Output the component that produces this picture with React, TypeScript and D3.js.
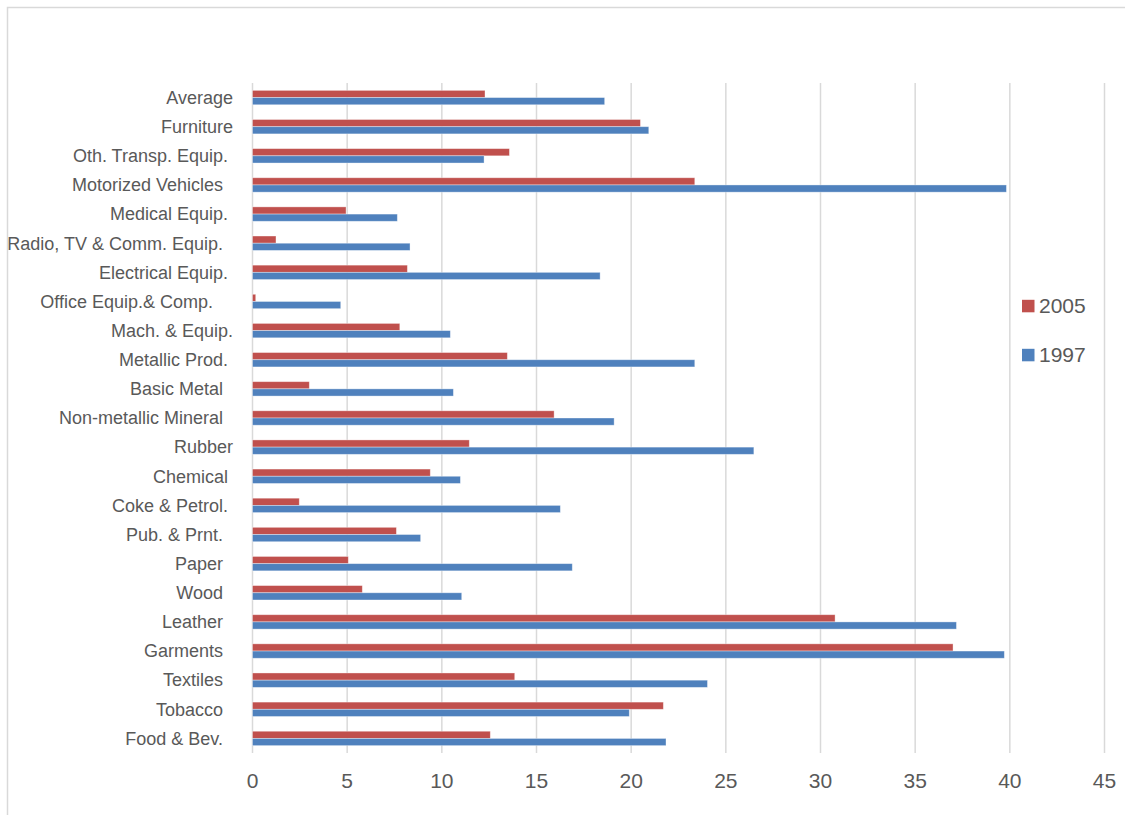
import React from "react";
import * as d3 from "d3";

// Industry categories, listed top to bottom as they appear on the axis.
// Trailing spaces are part of the source labels.
const categories: string[] = [
  "Average",
  "Furniture",
  "Oth. Transp. Equip. ",
  "Motorized Vehicles  ",
  "Medical Equip. ",
  "Radio, TV & Comm. Equip.  ",
  "Electrical Equip. ",
  "Office Equip.& Comp.    ",
  "Mach. & Equip.",
  "Metallic Prod. ",
  "Basic Metal  ",
  "Non-metallic Mineral  ",
  "Rubber",
  "Chemical ",
  "Coke & Petrol. ",
  "Pub. & Prnt.  ",
  "Paper  ",
  "Wood  ",
  "Leather  ",
  "Garments  ",
  "Textiles  ",
  "Tobacco  ",
  "Food & Bev.  ",
];

const values2005: number[] = [
  12.28, 20.49, 13.57, 23.36, 4.94, 1.24, 8.18, 0.17, 7.78, 13.46, 3.0, 15.93,
  11.45, 9.39, 2.47, 7.6, 5.06, 5.8, 30.77, 37.0, 13.85, 21.7, 12.56,
];

const values1997: number[] = [
  18.6, 20.93, 12.23, 39.82, 7.65, 8.32, 18.36, 4.66, 10.45, 23.36, 10.61, 19.1,
  26.48, 10.98, 16.26, 8.88, 16.89, 11.05, 37.18, 39.71, 24.03, 19.9, 21.84,
];

const seriesNames: string[] = ["2005", "1997"];
const seriesColors: string[] = ["#c0504d", "#4f81bd"];
const xTicks: number[] = [0, 5, 10, 15, 20, 25, 30, 35, 40, 45];

const W = 1125;
const H = 815;
const plot = { left: 252.5, right: 1104.5, top: 83, bottom: 753 };
const textColor = "#595959";
const gridColor = "#d9d9d9";
const font = "'Liberation Sans', Arial, sans-serif";

export default function App() {
  const x = d3.scaleLinear().domain([0, 45]).range([plot.left, plot.right]);
  const y = d3
    .scaleBand<string>()
    .domain(categories)
    .range([plot.top, plot.bottom])
    .padding(0);
  const step = y.bandwidth();
  const barH = 7.2;
  const inner = d3
    .scaleBand<string>()
    .domain(seriesNames)
    .range([step / 2 - barH, step / 2 + barH])
    .padding(0);

  const series = [values2005, values1997];

  return (
    <svg
      width={W}
      height={H}
      style={{ position: "absolute", left: 0, top: 0, display: "block" }}
    >
      <rect x={0} y={0} width={W} height={H} fill="#ffffff" />
      <rect
        x={7.5}
        y={7.5}
        width={W + 20}
        height={H + 20}
        fill="none"
        stroke={gridColor}
        strokeWidth={1.5}
      />

      {/* vertical gridlines */}
      {xTicks.map((t) => (
        <line
          key={"g" + t}
          x1={x(t)}
          x2={x(t)}
          y1={plot.top}
          y2={plot.bottom}
          stroke={gridColor}
          strokeWidth={1.5}
        />
      ))}

      {/* bars */}
      {categories.map((c, i) => (
        <g key={"c" + i} transform={`translate(0,${y(c)})`}>
          {seriesNames.map((s, j) => (
            <rect
              key={s}
              x={x(0)}
              y={inner(s)}
              width={x(series[j][i]) - x(0)}
              height={inner.bandwidth()}
              fill={seriesColors[j]}
              stroke="rgba(255,255,255,0.45)"
              strokeWidth={0.8}
            />
          ))}
        </g>
      ))}

      {/* category labels */}
      {categories.map((c, i) => (
        <text
          key={"l" + i}
          x={233}
          y={(y(c) as number) + step / 2}
          dy="0.35em"
          textAnchor="end"
          fill={textColor}
          fontFamily={font}
          fontSize={18}
          style={{ whiteSpace: "pre" }}
        >
          {c}
        </text>
      ))}

      {/* x tick labels */}
      {xTicks.map((t) => (
        <text
          key={"t" + t}
          x={x(t)}
          y={781}
          dy="0.35em"
          textAnchor="middle"
          fill={textColor}
          fontFamily={font}
          fontSize={21}
        >
          {t}
        </text>
      ))}

      {/* legend */}
      {seriesNames.map((s, j) => (
        <g key={"lg" + s} transform={`translate(1022,${306 + j * 49})`}>
          <rect x={0} y={-6.2} width={12.5} height={12.5} fill={seriesColors[j]} />
          <text
            x={17}
            y={0}
            dy="0.35em"
            fill={textColor}
            fontFamily={font}
            fontSize={21}
          >
            {s}
          </text>
        </g>
      ))}
    </svg>
  );
}
